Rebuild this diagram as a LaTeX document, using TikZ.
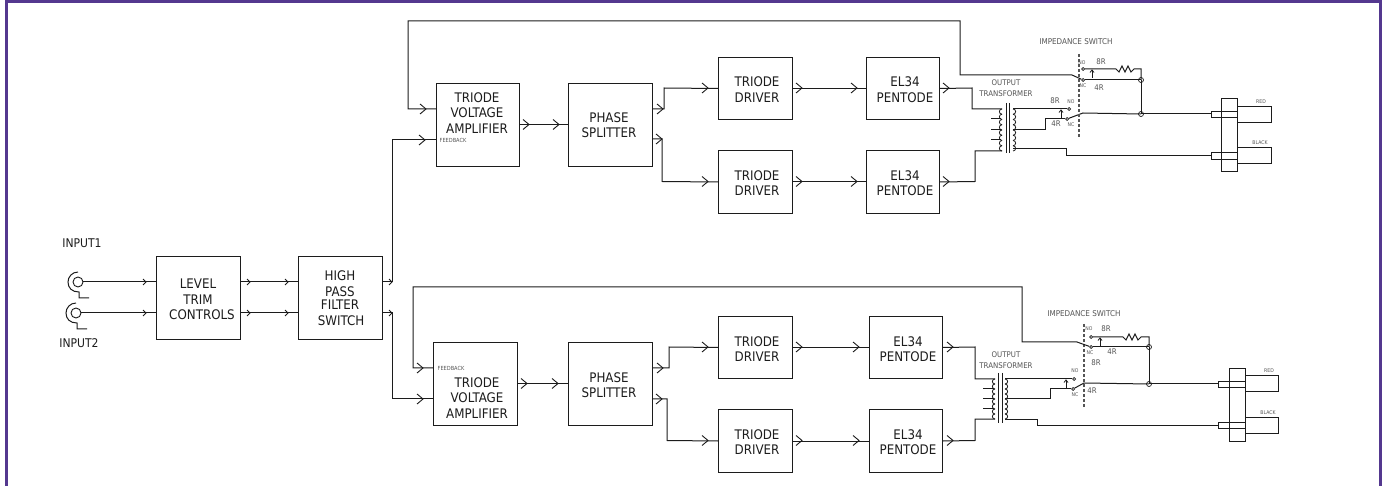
\documentclass[tikz,border=0pt]{standalone}
\usepackage{fontspec}
\setmainfont{DejaVu Sans Condensed}
\definecolor{framec}{HTML}{54388F}
\definecolor{inkc}{HTML}{1C1C1C}
\definecolor{softc}{HTML}{555555}
\tikzset{
  wire/.style={draw=inkc,line width=1pt},
  stepbox/.style={draw=inkc,line width=1pt,anchor=north west,inner sep=0pt,fill=white},
  txt/.style={text=inkc,inner sep=0pt,align=center,font=\fontsize{13.2}{15.6}\selectfont},
  midtxt/.style={text=softc,inner sep=0pt,align=center,font=\fontsize{7.8}{11}\selectfont},
  tiny/.style={text=softc,inner sep=0pt,align=center,font=\fontsize{5.1}{5}\selectfont},
  contact/.style={circle,draw=inkc,fill=white,line width=0.7pt,inner sep=0pt,minimum size=3pt},
  junct/.style={circle,draw=inkc,line width=0.7pt,inner sep=0pt,minimum size=5pt},
  jack/.style={circle,draw=inkc,line width=0.9pt,inner sep=0pt,minimum size=10pt},
  chev/.pic={\draw[draw=inkc,line width=0.9pt] (-6,-5) -- (0,0) -- (-6,5);},
  chevs/.pic={\draw[draw=inkc,line width=0.9pt] (-3,-3) -- (0,0) -- (-3,3);},
  tickarrow/.pic={\draw[draw=inkc,line width=0.8pt] (0,8) -- (0,0); \draw[draw=inkc,line width=0.8pt] (-2,2.5) -- (0,0) -- (2,2.5);},
  coilL/.pic={\foreach \i in {0,...,7} \draw[draw=inkc,line width=0.8pt] (0,{\i*5.25}) .. controls (-3.5,{\i*5.25}) and (-3.5,{\i*5.25+5.25}) .. (0,{\i*5.25+5.25});},
  coilR/.pic={\foreach \i in {0,...,7} \draw[draw=inkc,line width=0.8pt] (0,{\i*5.25}) .. controls (3.5,{\i*5.25}) and (3.5,{\i*5.25+5.25}) .. (0,{\i*5.25+5.25});},
  gapline/.style={draw=softc,line width=1.2pt,dash pattern=on 3pt off 2pt}
}
\newcommand{\chv}[2]{\pic at (#1,#2) {chev};}
\newcommand{\chs}[2]{\pic at (#1,#2) {chevs};}
\newcommand{\bx}[6]{\node[stepbox,minimum width=#4pt,minimum height=#5pt] (#1) at (#2,#3) {#6};}
\begin{document}
\begin{tikzpicture}[x=1pt,y=-1pt]
\useasboundingbox (0,0) rectangle (1385,486);
\fill[white] (0,0) rectangle (1385,486);
\draw[framec,line width=3pt] (6.5,486) -- (6.5,2) -- (1380,2) -- (1380,486);

% boxes
\bx{lev}{156}{256}{84}{83}{}
\bx{hpf}{298}{256}{84}{83}{}
\bx{tvaA}{436}{83}{83}{83}{}
\bx{psA}{568}{83}{84}{83}{}
\bx{drA}{718}{57}{74}{62}{}
\bx{drB}{718}{150}{74}{63}{}
\bx{elA}{866}{57}{73}{62}{}
\bx{elB}{866}{150}{73}{63}{}
\bx{tvaB}{433}{342}{84}{83}{}
\bx{psB}{568}{342}{84}{83}{}
\bx{drC}{718}{316}{74}{62}{}
\bx{drD}{718}{409}{74}{63}{}
\bx{elC}{869}{316}{73}{62}{}
\bx{elD}{869}{409}{73}{63}{}

% box texts
\node[txt] (tl1) at (198,284) {LEVEL};
\node[txt] (tl2) at (198,299.5) {TRIM};
\node[txt] (tl3) at (202,315) {CONTROLS};
\node[txt] (th1) at (340,276) {HIGH};
\node[txt] (th2) at (340,292) {PASS};
\node[txt] (th3) at (340,305) {FILTER};
\node[txt] (th4) at (341,321) {SWITCH};
\node[txt] (tvA) at (477,113) {TRIODE\\VOLTAGE\\AMPLIFIER};
\node[txt] (tvB) at (477,398) {TRIODE\\VOLTAGE\\AMPLIFIER};
\node[txt] (tpA) at (609,125) {PHASE\\SPLITTER};
\node[txt] (tpB) at (609,385) {PHASE\\SPLITTER};
\node[txt] (tdA) at (757,89.5) {TRIODE\\DRIVER};
\node[txt] (tdB) at (757,183) {TRIODE\\DRIVER};
\node[txt] (tdC) at (757,349) {TRIODE\\DRIVER};
\node[txt] (tdD) at (757,442) {TRIODE\\DRIVER};
\node[txt] (teA) at (905,89.5) {EL34\\PENTODE};
\node[txt] (teB) at (905,183) {EL34\\PENTODE};
\node[txt] (teC) at (908,349) {EL34\\PENTODE};
\node[txt] (teD) at (908,442) {EL34\\PENTODE};
\node[tiny,font=\fontsize{5.6}{5}\selectfont] (fbA) at (453,140) {FEEDBACK};
\node[tiny,font=\fontsize{5.6}{5}\selectfont] (fbB) at (451,368) {FEEDBACK};

% inputs
\node[jack] (inA) at (78,282) {};
\node[jack] (inB) at (76,313) {};
\draw[wire] (78,272) .. controls (72,272) and (68,277) .. (68,282) .. controls (68,288) and (72,292) .. (79,292) -- (79,298) -- (89,298);
\draw[wire] (76,303) .. controls (70,303) and (66,308) .. (66,313) .. controls (66,319) and (70,323) .. (77,323) -- (77,329) -- (87,329);
\node[txt,font=\fontsize{12}{12}\selectfont] (ti1) at (82,243) {INPUT1};
\node[txt,font=\fontsize{12}{12}\selectfont] (ti2) at (79,343) {INPUT2};
\draw[wire] (inA) -- (lev.west |- inA); \chs{146}{282}
\draw[wire] (inB) -- (lev.west |- inB); \chs{146}{313}
\draw[wire] (lev.east |- inA) -- (hpf.west |- inA); \chs{250}{282} \chs{288}{282}
\draw[wire] (lev.east |- inB) -- (hpf.west |- inB); \chs{250}{313} \chs{288}{313}

% HPF to amplifiers
\coordinate (hA) at (382,282); \coordinate (hB) at (382,313);
\coordinate (tA) at (436,140); \coordinate (tB) at (433,399);
\draw[wire] (hA) -- (392,282) -- (392,140) -- (tA); \chs{392}{282} \chv{425}{140}
\draw[wire] (hB) -- (392,313) -- (392,399) -- (tB); \chs{392}{313} \chv{423}{399}

% forward chain A
\draw[wire] (tvaA.east) -- (psA.west |- tvaA.east); \chv{529}{124.5} \chv{559}{124.5}
\coordinate (pa) at (652,109); \coordinate (pb) at (652,139);
\draw[wire] (pa) -- (664,109) -- (664,88) -- (drA.west); \chv{663}{109} \chv{708}{88}
\draw[wire] (pb) -- (662,139) -- (662,181.5) -- (drB.west); \chv{662}{139} \chv{708}{181.5}
\draw[wire] (drA.east) -- (elA.west); \chv{802}{88} \chv{857}{88}
\draw[wire] (drB.east) -- (elB.west); \chv{802}{181.5} \chv{857}{181.5}
\chv{949}{88} \chv{949}{181.5}

% forward chain B
\draw[wire] (tvaB.east) -- (psB.west |- tvaB.east); \chv{527}{383.5} \chv{558}{383.5}
\coordinate (pc) at (652,368); \coordinate (pd) at (652,399);
\draw[wire] (pc) -- (669,368) -- (669,347) -- (drC.west); \chv{663}{368} \chv{708}{347}
\draw[wire] (pd) -- (667,399) -- (667,440.5) -- (drD.west); \chv{662}{399} \chv{708}{440.5}
\draw[wire] (drC.east) -- (elC.west); \chv{802}{347} \chv{859}{347}
\draw[wire] (drD.east) -- (elD.west); \chv{802}{440.5} \chv{859}{440.5}
\chv{953}{347} \chv{953}{440.5}

% transformer A
\draw[wire] (elA.east) -- (972,88) -- (972,109) -- (1002,109);
\draw[wire] (elB.east) -- (975,181.5) -- (975,151) -- (1002,151);
\pic at (1002,109) {coilL};
\pic at (1013,109) {coilR};
\draw[wire] (1006,103) -- (1006,153); \draw[wire] (1009,103) -- (1009,153);
\draw[wire] (991,119) -- (1001,119); \draw[wire] (991,129.5) -- (1001,129.5); \draw[wire] (991,140) -- (1001,140);
\node[midtxt] (otA) at (1006,88.5) {OUTPUT\\TRANSFORMER};

% switch A
\node[contact] (noA) at (1069,109) {};
\node[contact] (ncA) at (1067,119) {};
\node[contact] (noB) at (1083,69) {};
\node[contact] (ncB) at (1083,80) {};
\node[junct] (jaA) at (1141,80) {};
\node[junct] (jbA) at (1141,114) {};
\draw[wire] (1013,109) -- (noA);
\draw[wire] (1013,129.5) -- (1045,129.5) -- (1045,119) -- (ncA);
\draw[wire] (1013,149) -- (1066,149) -- (1066,156) -- (1211,156);
\draw[wire] (ncA) -- (1083,113) -- (jbA.center);
\draw[wire] (jbA.center) -- (1211,114);
\draw[wire] (noB) -- (1116,69) -- (1119,72) -- (1122,66) -- (1125,72) -- (1128,66) -- (1131,72) -- (1134,69) -- (1141,69) -- (jaA.center);
\draw[wire] (jaA.center) -- (jbA.center);
\draw[wire] (ncB) -- (jaA.center);
\draw[gapline] (1079,54) -- (1079,137);
\pic at (1061,110) {tickarrow};
\pic at (1092,70) {tickarrow};
\coordinate (fbAin) at (436,109);
\draw[wire] (ncB) -- (1072,75) -- (960,75) -- (960,21) -- (408,21) -- (408,109) -- (fbAin);
\chv{426}{109}
\node[midtxt,font=\fontsize{8}{8}\selectfont] (isA) at (1076,42) {IMPEDANCE SWITCH};
\node[tiny] (l1) at (1082,63) {NO};
\node[tiny] (l2) at (1083,86) {NC};
\node[midtxt] (l3) at (1101,62) {8R};
\node[midtxt] (l4) at (1099,88) {4R};
\node[midtxt] (l5) at (1055,101) {8R};
\node[midtxt] (l6) at (1056,124) {4R};
\node[tiny] (l7) at (1071,102) {NO};
\node[tiny] (l8) at (1071,125) {NC};

% connector A
\node[stepbox,fill=none,minimum width=34pt,minimum height=16pt] (rdA) at (1237,106) {};
\node[stepbox,fill=none,minimum width=34pt,minimum height=16pt] (blA) at (1237,147) {};
\node[stepbox,fill=none,minimum width=16pt,minimum height=73pt] (pnA) at (1221,98) {};
\node[stepbox,fill=none,minimum width=26pt,minimum height=6pt] (psA1) at (1211,111) {};
\node[stepbox,fill=none,minimum width=26pt,minimum height=7pt] (psA2) at (1211,152) {};
\node[tiny] (rA) at (1261,102) {RED};
\node[tiny] (bA) at (1260,143) {BLACK};

% transformer B
\draw[wire] (elC.east) -- (975,347) -- (975,379) -- (995,379);
\draw[wire] (elD.east) -- (975,440.5) -- (975,419) -- (995,419);
\pic[yscale=0.952] at (995,379) {coilL};
\pic[yscale=0.952] at (1005,379) {coilR};
\draw[wire] (998,373) -- (998,423); \draw[wire] (1002,373) -- (1002,423);
\draw[wire] (983,389) -- (994,389); \draw[wire] (983,399) -- (994,399); \draw[wire] (983,409) -- (994,409);
\node[midtxt] (otB) at (1006,360.5) {OUTPUT\\TRANSFORMER};

% switch B
\node[contact] (noC) at (1074,379) {};
\node[contact] (ncC) at (1073,389) {};
\node[contact] (noD) at (1091,337) {};
\node[contact] (ncD) at (1091,347) {};
\node[junct] (jaB) at (1149,347) {};
\node[junct] (jbB) at (1149,384) {};
\draw[wire] (1005,379) -- (noC);
\draw[wire] (1005,399) -- (1050,399) -- (1050,389) -- (ncC);
\draw[wire] (1005,419) -- (1037,419) -- (1037,425) -- (1218,425);
\draw[wire] (ncC) -- (1084,383) -- (jbB.center);
\draw[wire] (jbB.center) -- (1218,384);
\draw[wire] (noD) -- (1123,337) -- (1126,340) -- (1129,334) -- (1132,340) -- (1135,334) -- (1138,340) -- (1141,337) -- (1149,337) -- (jaB.center);
\draw[wire] (jaB.center) -- (jbB.center);
\draw[wire] (ncD) -- (jaB.center);
\draw[gapline] (1084,324) -- (1084,407);
\pic at (1066,380) {tickarrow};
\pic at (1100,338) {tickarrow};
\coordinate (fbBin) at (433,368);
\draw[wire] (ncD) -- (1077,342) -- (1022,342) -- (1022,287) -- (413,287) -- (413,368) -- (fbBin);
\chv{423}{368}
\node[midtxt,font=\fontsize{8}{8}\selectfont] (isB) at (1084,314) {IMPEDANCE SWITCH};
\node[tiny] (m1) at (1089,329) {NO};
\node[tiny] (m2) at (1090,353) {NC};
\node[midtxt] (m3) at (1106,329) {8R};
\node[midtxt] (m4) at (1112,352) {4R};
\node[midtxt] (m5) at (1096,363) {8R};
\node[midtxt] (m6) at (1092,391) {4R};
\node[tiny] (m7) at (1075,371) {NO};
\node[tiny] (m8) at (1075,395) {NC};

% connector B
\node[stepbox,fill=none,minimum width=33pt,minimum height=16pt] (rdB) at (1245,375) {};
\node[stepbox,fill=none,minimum width=33pt,minimum height=16pt] (blB) at (1245,417) {};
\node[stepbox,fill=none,minimum width=16pt,minimum height=73pt] (pnB) at (1229,368) {};
\node[stepbox,fill=none,minimum width=27pt,minimum height=6pt] (psB1) at (1218,381) {};
\node[stepbox,fill=none,minimum width=27pt,minimum height=6pt] (psB2) at (1218,422) {};
\node[tiny] (rB) at (1269,371) {RED};
\node[tiny] (bB) at (1268,413) {BLACK};
\end{tikzpicture}
\end{document}
